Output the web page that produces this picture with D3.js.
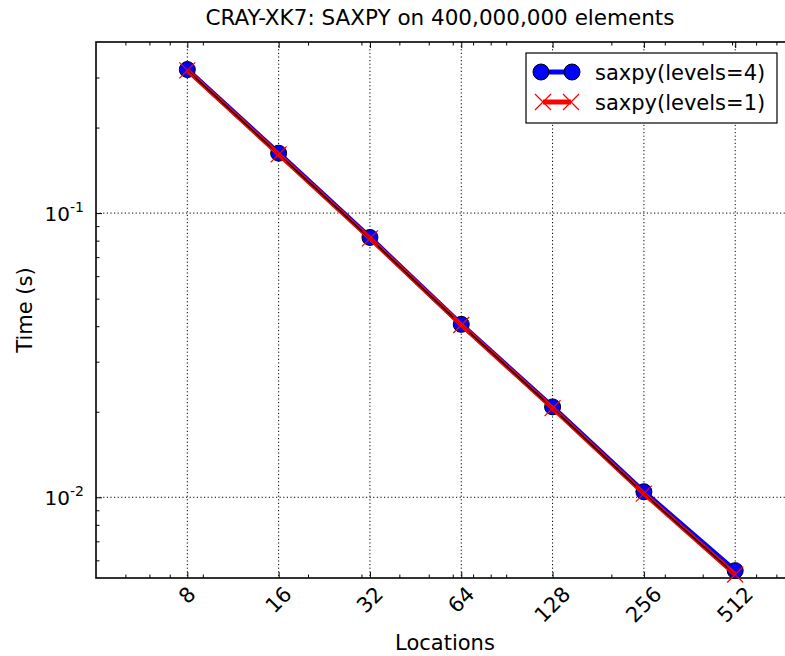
<!DOCTYPE html>
<html lang="en">
<head>
<meta charset="UTF-8">
<title>CRAY-XK7: SAXPY</title>
<script src="https://cdnjs.cloudflare.com/ajax/libs/d3/7.8.5/d3.min.js"></script>
<style>
    body { margin: 0; background: #fff; }
    svg { display: block; font-family: "DejaVu Sans", sans-serif; }
    .grid line { stroke: #000; stroke-width: 1; stroke-dasharray: 1.2,2.4; }
    .tick line { stroke: #000; stroke-width: 1; }
    .domain { display: none; }
</style>
</head>
<body>
<div id="chart"></div>
<script>
    const locations = [8, 16, 32, 64, 128, 256, 512];
    const timeLevels4 = [0.320, 0.1625, 0.0821, 0.0406, 0.0208, 0.01046, 0.00552];
    const timeLevels1 = [0.318, 0.161, 0.0815, 0.0404, 0.0206, 0.0103, 0.00535];
    const seriesNames = ["saxpy(levels=4)", "saxpy(levels=1)"];

    const xTicks = locations;
    const xMinorTicks = [5, 6, 7, 9, 20, 30, 40, 50, 60, 70, 80, 90, 200, 300, 400, 500, 600, 700];
    const yTicks = [0.01, 0.1];
    const yTickExp = ["-2", "-1"];
    const yMinorTicks = [0.006, 0.007, 0.008, 0.009, 0.02, 0.03, 0.04, 0.05, 0.06, 0.07, 0.08, 0.09, 0.2, 0.3];

    const width = 785, height = 656;
    const margin = { left: 96, top: 42, right: 794, bottom: 578 };

    const svg = d3.select("#chart").append("svg")
        .attr("width", width)
        .attr("height", height);

    const x = d3.scaleLog().base(2).domain([4, 800]).range([margin.left, margin.right]);
    const y = d3.scaleLog().domain([0.0052, 0.4]).range([margin.bottom, margin.top]);

    // grid
    const grid = svg.append("g").attr("class", "grid");
    grid.selectAll("line.vx").data(xTicks).enter().append("line")
        .attr("x1", d => x(d)).attr("x2", d => x(d))
        .attr("y1", margin.top).attr("y2", margin.bottom);
    grid.selectAll("line.hy").data(yTicks).enter().append("line")
        .attr("x1", margin.left).attr("x2", margin.right)
        .attr("y1", d => y(d)).attr("y2", d => y(d));

    // ticks (inward)
    const majorLen = 6, minorLen = 3.5;
    svg.append("g").attr("transform", `translate(0,${margin.bottom})`)
        .call(d3.axisBottom(x).tickValues(xTicks).tickSize(-majorLen).tickFormat(""));
    svg.append("g").attr("transform", `translate(0,${margin.bottom})`)
        .call(d3.axisBottom(x).tickValues(xMinorTicks).tickSize(-minorLen).tickFormat(""));
    svg.append("g").attr("transform", `translate(0,${margin.top})`)
        .call(d3.axisTop(x).tickValues(xTicks).tickSize(-majorLen).tickFormat(""));
    svg.append("g").attr("transform", `translate(0,${margin.top})`)
        .call(d3.axisTop(x).tickValues(xMinorTicks).tickSize(-minorLen).tickFormat(""));
    svg.append("g").attr("transform", `translate(${margin.left},0)`)
        .call(d3.axisLeft(y).tickValues(yTicks).tickSize(-majorLen).tickFormat(""));
    svg.append("g").attr("transform", `translate(${margin.left},0)`)
        .call(d3.axisLeft(y).tickValues(yMinorTicks).tickSize(-minorLen).tickFormat(""));

    // frame
    svg.append("rect")
        .attr("x", margin.left).attr("y", margin.top)
        .attr("width", margin.right - margin.left)
        .attr("height", margin.bottom - margin.top)
        .attr("fill", "none").attr("stroke", "#000").attr("stroke-width", 1.6);

    // x tick labels, rotated 45
    xTicks.forEach(v => {
        const t = svg.append("text")
            .attr("font-size", 21)
            .attr("text-anchor", "middle")
            .attr("dominant-baseline", "central")
            .text(v);
        const w = t.node().getComputedTextLength();
        const cy = margin.bottom + 4 + (w + 24) / Math.SQRT2 / 2;
        t.attr("transform", `translate(${x(v)},${cy}) rotate(-45)`);
    });

    // y tick labels 10^n
    yTicks.forEach((v, i) => {
        const t = svg.append("text")
            .attr("x", 84).attr("y", y(v) + 7.5)
            .attr("text-anchor", "end")
            .attr("font-size", 20);
        t.append("tspan").text("10");
        t.append("tspan").attr("font-size", 14).attr("dy", -9).text(yTickExp[i]);
    });

    // labels
    svg.append("text")
        .attr("x", (margin.left + margin.right) / 2 - 5).attr("y", 25)
        .attr("text-anchor", "middle").attr("font-size", 21.5)
        .text("CRAY-XK7: SAXPY on 400,000,000 elements");
    svg.append("text")
        .attr("x", (margin.left + margin.right) / 2).attr("y", 650)
        .attr("text-anchor", "middle").attr("font-size", 21)
        .text("Locations");
    svg.append("text")
        .attr("transform", `translate(32,${(margin.top + margin.bottom) / 2}) rotate(-90)`)
        .attr("text-anchor", "middle").attr("font-size", 21)
        .text("Time (s)");

    // series
    const plot = svg.append("g");
    const line = d3.line().x(d => x(d[0])).y(d => y(d[1]));
    const s4 = locations.map((d, i) => [d, timeLevels4[i]]);
    const s1 = locations.map((d, i) => [d, timeLevels1[i]]);

    plot.append("path").datum(s4).attr("d", line)
        .attr("fill", "none").attr("stroke", "#0000ff").attr("stroke-width", 5);
    plot.selectAll("circle.s4").data(s4).enter().append("circle")
        .attr("cx", d => x(d[0])).attr("cy", d => y(d[1])).attr("r", 8)
        .attr("fill", "#0000ff").attr("stroke", "#000").attr("stroke-width", 1);
    plot.append("path").datum(s1).attr("d", line)
        .attr("fill", "none").attr("stroke", "#ff0000").attr("stroke-width", 4.5);
    plot.append("path").datum(s1).attr("d", line)
        .attr("fill", "none").attr("stroke", "#000").attr("stroke-width", 1.5);

    const xMark = (g, cx, cy) => {
        g.append("path")
            .attr("d", `M${cx - 8},${cy - 8}L${cx + 8},${cy + 8}M${cx - 8},${cy + 8}L${cx + 8},${cy - 8}`)
            .attr("stroke", "#ff0000").attr("stroke-width", 1.2).attr("fill", "none");
    };
    s1.forEach(d => xMark(plot, x(d[0]), y(d[1])));

    // legend
    const lg = svg.append("g");
    lg.append("rect")
        .attr("x", 526).attr("y", 53).attr("width", 251).attr("height", 70)
        .attr("fill", "#fff").attr("stroke", "#000").attr("stroke-width", 1.2);
    const r1 = 72, r2 = 102;
    lg.append("line").attr("x1", 541).attr("x2", 572).attr("y1", r1).attr("y2", r1)
        .attr("stroke", "#0000ff").attr("stroke-width", 5);
    [541, 572].forEach(cx => lg.append("circle").attr("cx", cx).attr("cy", r1).attr("r", 8)
        .attr("fill", "#0000ff").attr("stroke", "#000").attr("stroke-width", 1));
    lg.append("line").attr("x1", 543).attr("x2", 571).attr("y1", r2).attr("y2", r2)
        .attr("stroke", "#ff0000").attr("stroke-width", 5);
    [543, 571].forEach(cx => xMark(lg, cx, r2));
    [r1, r2].forEach((ry, i) => lg.append("text")
        .attr("x", 595).attr("y", ry + 7.5).attr("font-size", 21)
        .text(seriesNames[i]));
</script>
</body>
</html>
